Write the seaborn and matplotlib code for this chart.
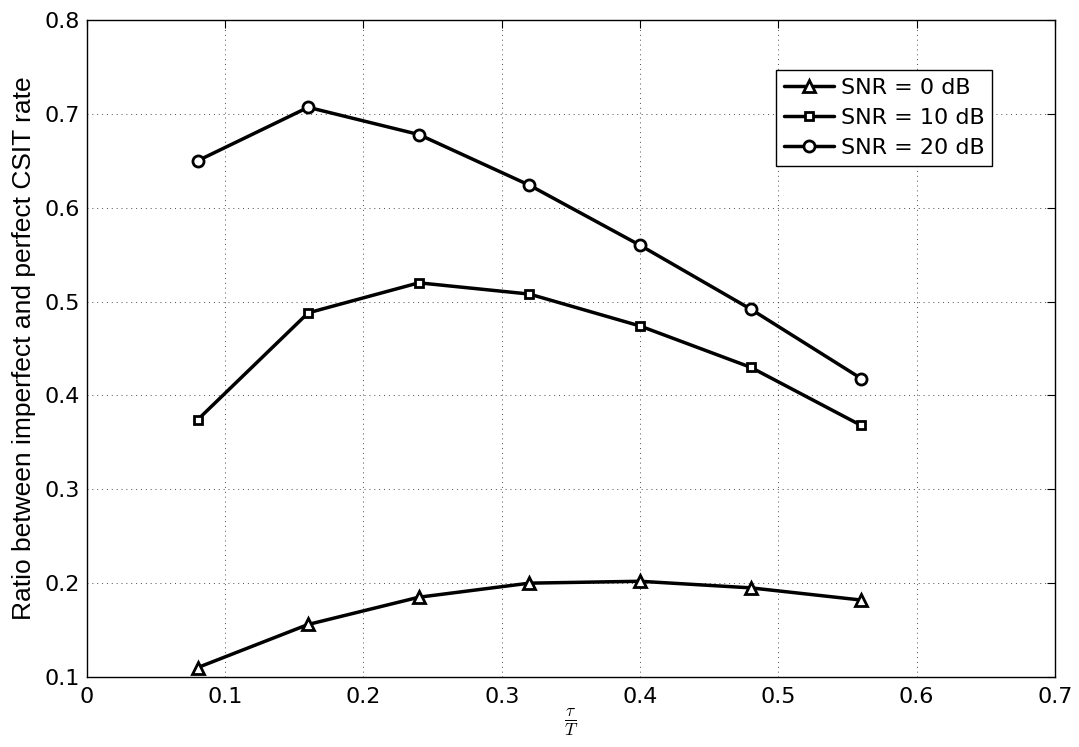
import matplotlib.pyplot as plt
import seaborn as sns
import pandas as pd

# values
tau_T = [0.08, 0.16, 0.24, 0.32, 0.40, 0.48, 0.56]
snr0 = [0.110, 0.156, 0.185, 0.200, 0.202, 0.195, 0.182]
snr10 = [0.374, 0.488, 0.520, 0.508, 0.474, 0.430, 0.368]
snr20 = [0.650, 0.707, 0.678, 0.624, 0.560, 0.492, 0.418]
labels = ['SNR = 0 dB', 'SNR = 10 dB', 'SNR = 20 dB']

df = pd.DataFrame({
    'x': tau_T * 3,
    'y': snr0 + snr10 + snr20,
    'series': [labels[0]] * 7 + [labels[1]] * 7 + [labels[2]] * 7,
})

sns.set_style('white', {'text.color': 'black', 'axes.labelcolor': 'black',
                        'xtick.color': 'black', 'ytick.color': 'black'})
plt.rcParams['font.family'] = ['DejaVu Sans']
plt.rcParams['mathtext.fontset'] = 'cm'

fig = plt.figure(figsize=(10.79, 7.47), dpi=100)
ax = fig.add_axes([0.0806, 0.0937, 0.897, 0.8795])

markers = {labels[0]: '^', labels[1]: 's', labels[2]: 'o'}
sizes = {labels[0]: 9, labels[1]: 6, labels[2]: 8}
for lab in labels:
    sub = df[df['series'] == lab]
    sns.lineplot(data=sub, x='x', y='y', ax=ax, color='black', linewidth=2.5,
                 marker=markers[lab], markersize=sizes[lab], markerfacecolor='white',
                 markeredgecolor='black', markeredgewidth=2, label=lab)

ax.set_xlim(0, 0.7)
ax.set_ylim(0.1, 0.8)
ax.set_xticks([0, 0.1, 0.2, 0.3, 0.4, 0.5, 0.6, 0.7])
ax.set_xticklabels(['0', '0.1', '0.2', '0.3', '0.4', '0.5', '0.6', '0.7'])
ax.set_yticks([0.1, 0.2, 0.3, 0.4, 0.5, 0.6, 0.7, 0.8])
ax.set_yticklabels(['0.1', '0.2', '0.3', '0.4', '0.5', '0.6', '0.7', '0.8'])
ax.tick_params(direction='in', length=6, labelsize=16, top=True, right=True, pad=5,
               colors='black')
ax.tick_params(axis='x', pad=7)
ax.grid(True, linestyle=(0, (1, 4)), color='black', linewidth=0.7, alpha=0.7)
for s in ax.spines.values():
    s.set_color('black')
    s.set_linewidth(1.0)

ax.set_xlabel(r'$\frac{\tau}{T}$', fontsize=18, labelpad=0, color='black')
ax.set_ylabel('Ratio between imperfect and perfect CSIT rate', fontsize=19,
              family='Liberation Sans', labelpad=6, color='black')

leg = ax.legend(loc='upper left', bbox_to_anchor=(0.712, 0.924), fontsize=16,
                frameon=True, fancybox=False, edgecolor='black', framealpha=1,
                handlelength=2.25, handletextpad=0.3, borderpad=0.35, labelspacing=0.45,
                borderaxespad=0, labelcolor='black')
leg.get_frame().set_linewidth(1.0)

fig.savefig('out.png', dpi=100)
